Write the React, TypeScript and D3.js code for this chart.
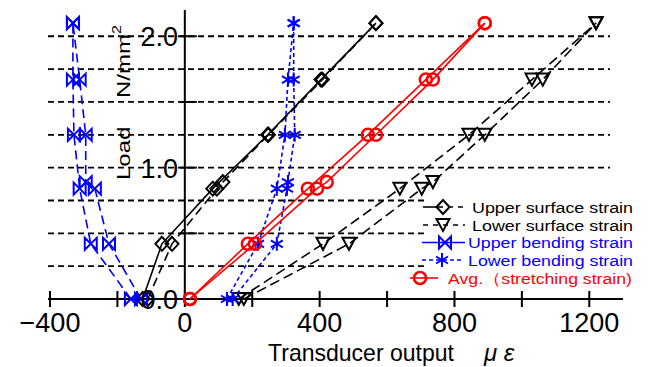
import React from 'react';
import * as d3 from 'd3';

// load levels (N/mm2) for the two runs of each gauge
const loadsA = [0, 0.42, 0.84, 1.25, 1.67, 2.1];
const loadsB = [0, 0.42, 0.84, 0.89, 1.25, 1.67, 2.1];

// transducer output, micro strain
const upperSurfaceA = [-125, -68, 83, 246, 404, 567];
const upperSurfaceB = [-110, -38, 95, 113, 248, 408, 567];
const lowerSurfaceA = [160, 410, 638, 843, 1030, 1220];
const lowerSurfaceB = [175, 487, 703, 736, 890, 1062, 1220];
const upperBendingA = [-160, -279, -312, -329, -332, -332];
const upperBendingB = [-130, -225, -267, -294, -294, -312, -332];
const lowerBendingA = [125, 217, 273, 297, 306, 323];
const lowerBendingB = [142, 273, 303, 306, 326, 323, 323];
const avgA = [15, 187, 365, 543, 715, 890];
const avgB = [15, 208, 392, 421, 567, 736, 890];

const legendNames = [
  'Upper surface strain',
  'Lower surface strain',
  'Upper bending strain',
  'Lower bending strain',
  'Avg.（stretching strain)',
];

const xTicks = [-400, -200, 0, 200, 400, 600, 800, 1000, 1200];
const xLabels = [-400, 0, 400, 800, 1200];
const yLabels = [0, 1, 2];
const yTicks = [0, 0.5, 1, 1.5, 2];
const gridLevels = [0.25, 0.5, 0.75, 1, 1.25, 1.5, 1.75, 2];

const FONT = '"Liberation Sans", Arial, sans-serif';
const BLUE = '#0000ff';
const RED = '#ff0000';

const markers: Record<string, string> = {
  diamond: 'M0,-7L6.5,0L0,7L-6.5,0Z',
  triangle: 'M-6.5,-6L6.5,-6L0,6Z',
  bowtie: 'M-6,-6L6,6L6,-6L-6,6Z',
  star: 'M0,-7V7M-6,-3.5L6,3.5M-6,3.5L6,-3.5',
};

const series = [
  { color: '#000', marker: 'diamond', runs: [
    { loads: loadsA, vals: upperSurfaceA, dash: null },
    { loads: loadsB, vals: upperSurfaceB, dash: '9,5' },
  ] },
  { color: '#000', marker: 'triangle', runs: [
    { loads: loadsA, vals: lowerSurfaceA, dash: '10,5' },
    { loads: loadsB, vals: lowerSurfaceB, dash: '10,5' },
  ] },
  { color: BLUE, marker: 'bowtie', runs: [
    { loads: loadsA, vals: upperBendingA, dash: '9,5' },
    { loads: loadsB, vals: upperBendingB, dash: '9,5' },
  ] },
  { color: BLUE, marker: 'star', runs: [
    { loads: loadsA, vals: lowerBendingA, dash: '4,3' },
    { loads: loadsB, vals: lowerBendingB, dash: '4,3' },
  ] },
  { color: RED, marker: 'circle', runs: [
    { loads: loadsA, vals: avgA, dash: null },
    { loads: loadsB, vals: avgB, dash: null },
  ] },
];

const Marker = ({ type, x, y, color }: any) => {
  if (type === 'circle') {
    return <circle cx={x} cy={y} r={6} fill="none" stroke={color} strokeWidth={2.5} />;
  }
  return (
    <path
      d={markers[type]}
      transform={`translate(${x},${y})`}
      fill="none"
      stroke={color}
      strokeWidth={2}
    />
  );
};

export default function App() {
  const x = d3.scaleLinear().domain([-400, 1300]).range([50, 623]);
  const y = d3.scaleLinear().domain([0, 2.2]).range([299, 10]);
  const line = d3.line<[number, number]>().x(d => x(d[0])).y(d => y(d[1]));

  const legendY = [207, 225, 242.5, 260, 278];
  const legendText = [
    { x: 472, w: 161, fill: '#000' },
    { x: 472, w: 161, fill: '#000' },
    { x: 468, w: 165, fill: BLUE },
    { x: 468, w: 165, fill: BLUE },
    { x: 448, w: 184, fill: RED },
  ];

  return (
    <svg
      width={650}
      height={367}
      style={{ position: 'absolute', left: 0, top: 0, background: '#fff' }}
      fontFamily={FONT}
    >
      {/* dashed load levels */}
      {gridLevels.map(g => (
        <line key={g} x1={48} x2={610} y1={y(g)} y2={y(g)} stroke="#000" strokeWidth={1.8} strokeDasharray="6,4" />
      ))}

      {/* legend background hides the grid */}
      <rect x={428} y={193} width={214} height={95} fill="#fff" />

      {/* axes */}
      <line x1={x(0)} x2={x(0)} y1={y(2.2)} y2={y(0)} stroke="#000" strokeWidth={2} />
      <line x1={48} x2={623} y1={y(0)} y2={y(0)} stroke="#000" strokeWidth={2} />
      {xTicks.map(t => (
        <line key={t} x1={x(t)} x2={x(t)} y1={y(0) - 8} y2={y(0) + 8} stroke="#000" strokeWidth={2} />
      ))}
      {yTicks.map(t => (
        <line key={t} x1={x(0) - 5} x2={x(0) + 12} y1={y(t)} y2={y(t)} stroke="#000" strokeWidth={2} />
      ))}

      {/* data */}
      {series.map((s, i) => (
        <g key={i}>
          {s.runs.map((r, j) => (
            <path
              key={j}
              d={line(r.vals.map((v, k) => [v, r.loads[k]] as [number, number])) || ''}
              fill="none"
              stroke={s.color}
              strokeWidth={1.6}
              strokeDasharray={r.dash || undefined}
            />
          ))}
          {s.runs.map((r, j) =>
            r.vals.map((v, k) => (
              <Marker key={`${j}-${k}`} type={s.marker} x={x(v)} y={y(r.loads[k])} color={s.color} />
            ))
          )}
        </g>
      ))}

      {/* tick labels */}
      {xLabels.map(t => (
        <text key={t} x={x(t)} y={332} fontSize={27} textAnchor="middle">
          {t < 0 ? `\u2212${Math.abs(t)}` : t}
        </text>
      ))}
      {yLabels.map(t => (
        <text key={t} x={178} y={y(t) + 10} fontSize={27} textAnchor="end">
          {t.toFixed(1)}
        </text>
      ))}

      {/* axis titles */}
      <text x={268} y={361} fontSize={24} textLength={186} lengthAdjust="spacingAndGlyphs">Transducer output</text>
      <text x={484} y={361} fontSize={24} fontStyle="italic">μ ε</text>
      <g transform="translate(130,180) scale(0.8,1) rotate(-90)">
        <text x={0} y={0} fontSize={24}>
          Load
          <tspan x={82}>N/mm</tspan>
          <tspan dy={-11} fontSize={16}>2</tspan>
        </text>
      </g>

      {/* legend */}
      <g>
        <line x1={423} x2={443} y1={legendY[0]} y2={legendY[0]} stroke="#000" strokeWidth={1.6} />
        <line x1={443} x2={465} y1={legendY[0]} y2={legendY[0]} stroke="#000" strokeWidth={1.6} strokeDasharray="5,5" strokeDashoffset={-5} />
        <Marker type="diamond" x={443} y={legendY[0]} color="#000" />

        <line x1={423} x2={465} y1={legendY[1]} y2={legendY[1]} stroke="#000" strokeWidth={1.6} strokeDasharray="5,5" />
        <Marker type="triangle" x={443} y={legendY[1]} color="#000" />

        <line x1={422} x2={465} y1={legendY[2]} y2={legendY[2]} stroke={BLUE} strokeWidth={1.6} />
        <Marker type="bowtie" x={445} y={legendY[2]} color={BLUE} />

        <line x1={422} x2={462} y1={legendY[3]} y2={legendY[3]} stroke={BLUE} strokeWidth={1.6} strokeDasharray="4,3" />
        <Marker type="star" x={442} y={legendY[3]} color={BLUE} />

        <line x1={410} x2={438} y1={legendY[4]} y2={legendY[4]} stroke={RED} strokeWidth={1.6} />
        <Marker type="circle" x={420} y={legendY[4]} color={RED} />

        {legendNames.map((n, i) => (
          <text
            key={n}
            x={legendText[i].x}
            y={legendY[i] + 5.5}
            fontSize={15.5}
            fill={legendText[i].fill}
            textLength={legendText[i].w}
            lengthAdjust="spacingAndGlyphs"
          >
            {n}
          </text>
        ))}
      </g>
    </svg>
  );
}
